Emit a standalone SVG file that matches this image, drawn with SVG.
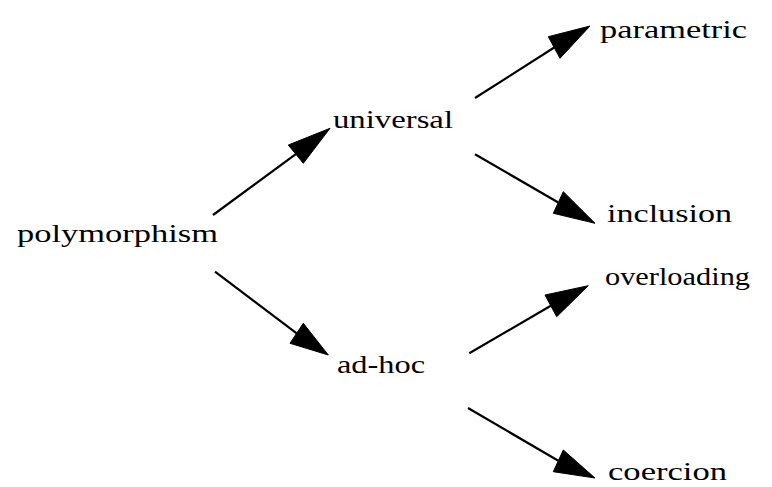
<svg xmlns="http://www.w3.org/2000/svg" width="772" height="487" viewBox="0 0 772 487">
<style>
.lbl{font-family:"Liberation Serif","Times New Roman",serif;font-size:25px;fill:#000}
.edge{stroke:#000;stroke-width:2.2;fill:none}
.head{fill:#000;stroke:#000;stroke-width:1}
</style>
<rect width="772" height="487" fill="#fff"/>
<g id="connectors">
<path class="edge" d="M213,215 L295.8,154.2"/>
<polygon class="head" points="330,128.3 288.3,145 303.3,163.3"/>
<path class="edge" d="M475,98 L554.2,47.5"/>
<polygon class="head" points="590,26 548.3,36.7 560,58.3"/>
<path class="edge" d="M475,154.3 L558.3,202.5"/>
<polygon class="head" points="595,223.3 563.3,191.7 553.3,213.3"/>
<path class="edge" d="M215,271.7 L296.7,333.3"/>
<polygon class="head" points="328.3,355 303.3,323.3 290,343.3"/>
<path class="edge" d="M469.3,353.3 L550.8,305.8"/>
<polygon class="head" points="588.3,285.7 545,295 556.7,316.7"/>
<path class="edge" d="M468,408 L558.3,460.8"/>
<polygon class="head" points="595,478 563.3,450 553.3,471.7"/>
</g>
<g id="polymorphism"><text class="lbl" x="17" y="242" textLength="201" lengthAdjust="spacingAndGlyphs">polymorphism</text></g>
<g id="universal"><text class="lbl" x="333" y="128" textLength="120" lengthAdjust="spacingAndGlyphs">universal</text></g>
<g id="ad-hoc"><text class="lbl" x="337" y="373" textLength="88" lengthAdjust="spacingAndGlyphs">ad-hoc</text></g>
<g id="parametric"><text class="lbl" x="600" y="38" textLength="147" lengthAdjust="spacingAndGlyphs">parametric</text></g>
<g id="inclusion"><text class="lbl" x="607" y="222" textLength="125" lengthAdjust="spacingAndGlyphs">inclusion</text></g>
<g id="overloading"><text class="lbl" x="605" y="285" textLength="145" lengthAdjust="spacingAndGlyphs">overloading</text></g>
<g id="coercion"><text class="lbl" x="608" y="480" textLength="119" lengthAdjust="spacingAndGlyphs">coercion</text></g>
</svg>
